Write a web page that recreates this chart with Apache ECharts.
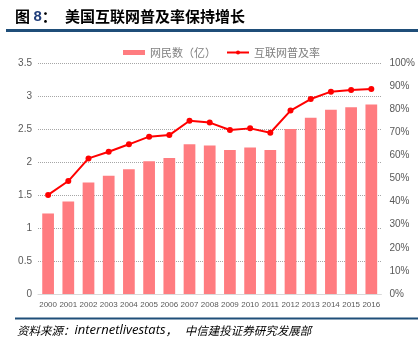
<!DOCTYPE html>
<html><head><meta charset="utf-8">
<script src="https://cdn.jsdelivr.net/npm/echarts@6/dist/echarts.min.js"></script>
<style>html,body{margin:0;padding:0;background:#fff}#c{width:418px;height:343px}</style>
</head><body><div id="c"></div>
<script>
const years = ['2000','2001','2002','2003','2004','2005','2006','2007','2008','2009','2010','2011','2012','2013','2014','2015','2016'];
const netizens = [1.22,1.40,1.69,1.79,1.89,2.01,2.06,2.27,2.25,2.18,2.22,2.18,2.50,2.67,2.79,2.83,2.87];
const penetration = [0.429,0.489,0.587,0.616,0.648,0.681,0.688,0.750,0.742,0.710,0.717,0.698,0.794,0.844,0.876,0.883,0.887];
const leftTicks = {min:0, max:3.5, interval:0.5};
const rightTicks = {min:0, max:1, interval:0.1};

const chart = echarts.init(document.getElementById('c'));
const axisFont = {color:'#595959', fontSize:10, fontFamily:'Liberation Sans, Arial, sans-serif'};
chart.setOption({
  animation:false,
  grid:{left:38, right:36, top:63, bottom:49},
  legend:{
    top:42, left:118, itemGap:10, itemWidth:22, itemHeight:5,
    textStyle:{color:'#7f7f7f', fontSize:11, fontFamily:'Noto Sans CJK SC'},
    data:[{name:'网民数（亿）', icon:'rect'},{name:'互联网普及率'}]
  },
  xAxis:{type:'category', data:years,
    axisLine:{lineStyle:{color:'#d9d9d9'}}, axisTick:{show:false},
    axisLabel:{margin:7, interval:0, fontSize:8, color:'#595959', fontFamily:'Liberation Sans, Arial, sans-serif'}},
  yAxis:[
    {type:'value', min:leftTicks.min, max:leftTicks.max, interval:leftTicks.interval,
     axisLine:{show:false}, axisTick:{show:false},
     axisLabel:Object.assign({margin:6}, axisFont),
     splitLine:{lineStyle:{color:'#a6a6a6', type:'dotted', width:1}}},
    {type:'value', min:rightTicks.min, max:rightTicks.max, interval:rightTicks.interval,
     axisLine:{show:false}, axisTick:{show:false}, splitLine:{show:false},
     axisLabel:Object.assign({margin:8, formatter:v=>Math.round(v*100)+'%'}, axisFont)}
  ],
  series:[
    {name:'网民数（亿）', type:'bar', data:netizens, barWidth:'58%', itemStyle:{color:'#FF7C80'}},
    {name:'互联网普及率', type:'line', yAxisIndex:1, data:penetration, symbol:'circle', symbolSize:6,
     lineStyle:{color:'#FF0000', width:2}, itemStyle:{color:'#FF0000'}}
  ],
  graphic:[
    {type:'text', left:15, top:9, style:{text:'{a|图 }{b|8}{a|：}',
      rich:{a:{font:'bold 15px "Noto Sans CJK SC"', fill:'#000'}, b:{font:'bold 15px "Liberation Sans"', fill:'#1F3D7A'}}}},
    {type:'text', left:65, top:9, style:{text:'美国互联网普及率保持增长', font:'bold 15px "Noto Sans CJK SC"', fill:'#000'}},
    {type:'rect', shape:{x:6, y:29, width:412, height:3}, style:{fill:'#1F4E79'}},
    {type:'rect', shape:{x:15, y:317.5, width:403, height:2}, style:{fill:'#1F4E79'}},
    {type:'text', left:17, top:324, style:{text:'{a|资料来源：}{b|internetlivestats}{a|，   中信建投证券研究发展部}',
      rich:{a:{font:'italic 11.5px "Noto Sans CJK SC"', fill:'#000'}, b:{font:'italic 13px "Open Sans"', fill:'#000'}}}}
  ]
});
</script></body></html>
